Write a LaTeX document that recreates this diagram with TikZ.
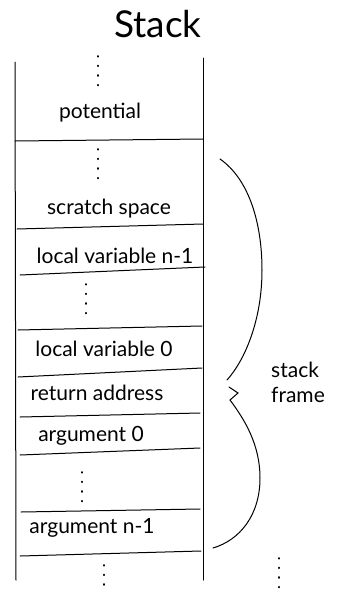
\documentclass[tikz,border=0pt]{standalone}
\usepackage{fontspec}
\setmainfont{Lato}
\begin{document}
\begin{tikzpicture}[x=1pt,y=-1pt,line width=1pt,line cap=round,
  lbl/.style={font=\fontsize{21}{24}\selectfont,inner sep=0pt},
  vdots/.style={dash pattern=on 0.6pt off 9pt,line width=2pt}]
\useasboundingbox (0,0) rectangle (337,592);
% title
\node[font=\fontsize{37}{40}\selectfont,inner sep=0pt] (title) at (158,24) {Stack};
% walls
\coordinate (lt) at (15,62);  \coordinate (lb) at (16,580);
\coordinate (rt) at (203,58); \coordinate (rb) at (203,580);
\draw (lt) -- (lb);
\draw (rt) -- (rb);
% separators
\draw (15,141) -- (203,139);
\draw (17,229) -- (203,224);
\draw (20,275) -- (205,267);
\draw (18,330) -- (202,326);
\draw (18,377) -- (202,368);
\draw (20,417) -- (200,413);
\draw (20,455) -- (200,448);
\draw (21,512) -- (200,509);
\draw (20,556) -- (201,551);
% dots
\coordinate (d1a) at (98,56);  \coordinate (d1b) at (98,90);
\coordinate (d2a) at (98,149); \coordinate (d2b) at (98,182);
\coordinate (d3a) at (86,284); \coordinate (d3b) at (86,316);
\coordinate (d4a) at (82,472); \coordinate (d4b) at (82,504);
\coordinate (d5a) at (104,565);\coordinate (d5b) at (104,597);
\coordinate (d6a) at (279,558);\coordinate (d6b) at (279,590);
\foreach \p in {1,...,6}{\draw[vdots] (d\p a) -- (d\p b);}
% labels
\node[lbl] (pot) at (100,113) {potential};
\node[lbl] (scr) at (109,209) {scratch space};
\node[lbl] (lvn) at (115,256) {local variable n-1};
\node[lbl] (lv0) at (104,349) {local variable 0};
\node[lbl] (ret) at (97,393) {return address};
\node[lbl] (arg0) at (91,436) {argument 0};
\node[lbl] (argn) at (92,528) {argument n-1};
\node[lbl,align=left,font=\fontsize{21}{25}\selectfont] (sf) at (298,382) {stack\\frame};
% brace
\draw (220,159) .. controls (250,180) and (262,225) .. (262,270)
      .. controls (262,320) and (245,360) .. (227,380);
\draw (229,387) -- (238,393) -- (230,400);
\draw (230,400) .. controls (245,420) and (260,445) .. (260,478)
      .. controls (260,515) and (240,540) .. (213,548);
\end{tikzpicture}
\end{document}
